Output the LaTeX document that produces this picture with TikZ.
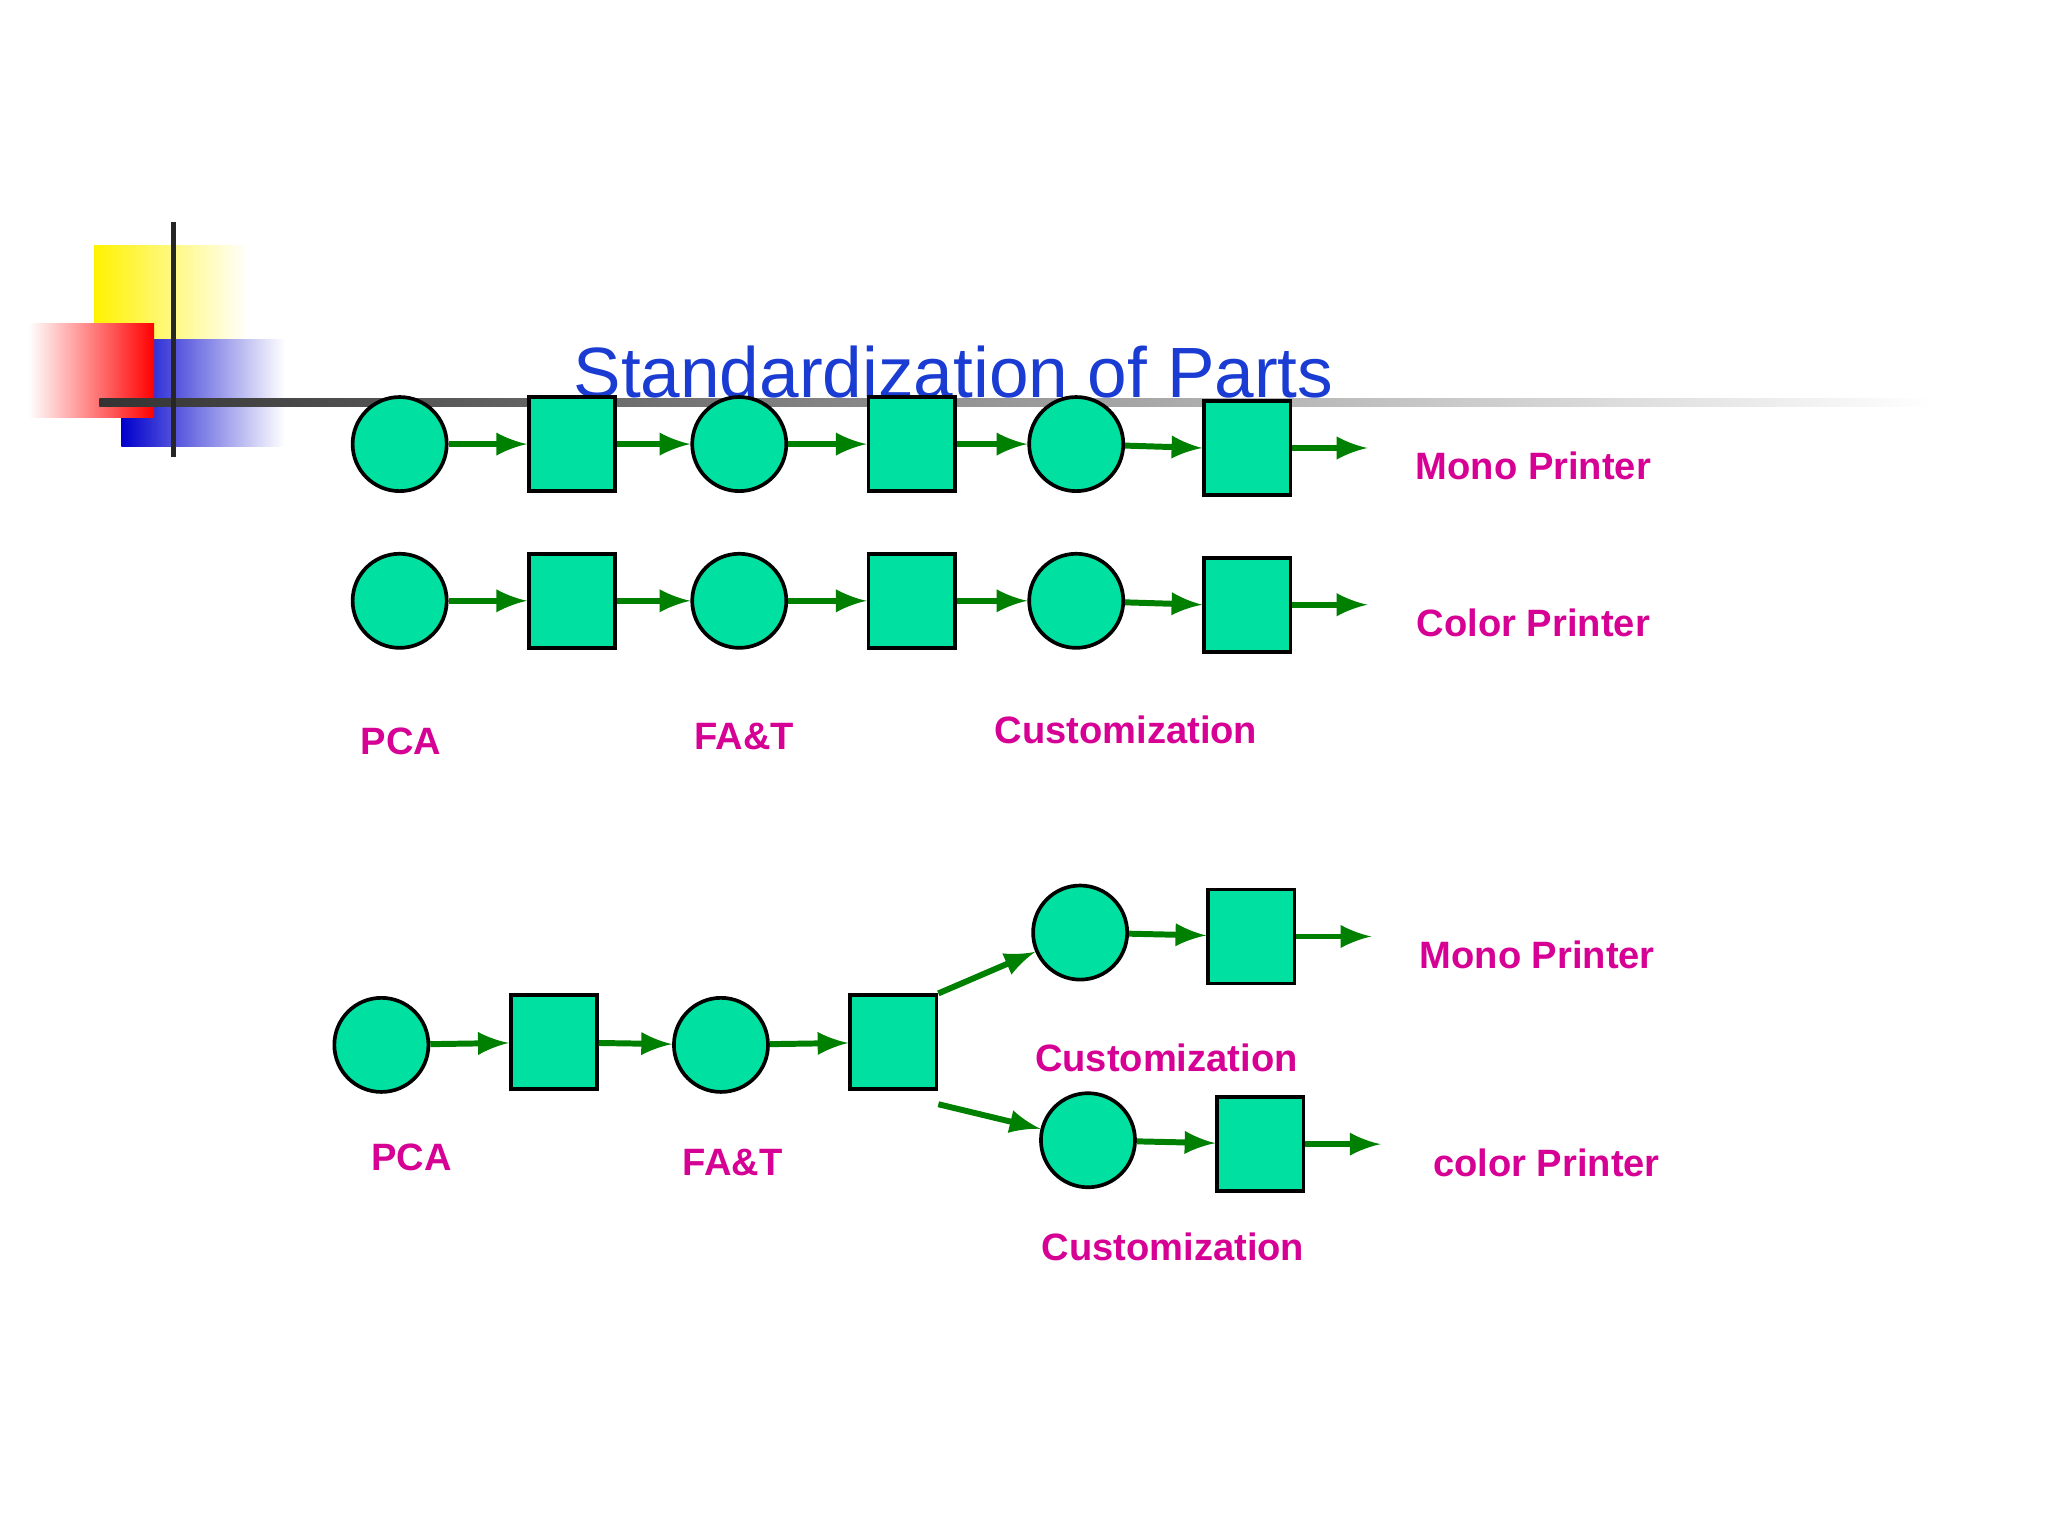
\documentclass[tikz,border=0pt]{standalone}
\usepackage{fontspec}
\setmainfont{Liberation Sans}
\usetikzlibrary{arrows}
\definecolor{partfill}{RGB}{0,224,160}
\definecolor{lblcol}{RGB}{214,0,148}
\definecolor{flowcol}{RGB}{0,128,0}
\definecolor{titlecol}{RGB}{26,60,210}
\begin{document}
\begin{tikzpicture}[x=0.01cm,y=-0.01cm,
    part/.style={circle, draw, thick, fill=partfill, minimum size=0.72cm, inner sep=0pt},
    station/.style={rectangle, draw, thick, fill=partfill, minimum width=0.66cm, minimum height=0.72cm, inner sep=0pt},
    lbl/.style={text=lblcol, font=\fontsize{8.3}{10}\selectfont\bfseries},
    line/.style={draw, flowcol, line width=1.3pt, -latex}
  ]
    \useasboundingbox (0,0) rectangle (1568,1176);
    % corner decoration
    \shade[left color=yellow!90!orange, right color=white] (72,188) rectangle (190,260);
    \shade[left color=blue!80!black, right color=white] (93,260) rectangle (218,342);
    \shade[left color=white, right color=red] (22,248) rectangle (118,320);
    \shade[left color=black!80, right color=white] (76,305) rectangle (1480,311);
    \fill[black!85] (131,170) rectangle (135,350);
    \node[text=titlecol, font=\fontsize{15.5}{18}\selectfont] (title) at (730,285) {Standardization of Parts};

    % two separate lines
    \foreach \r/\y/\name in {a/340/Mono Printer, b/460/Color Printer} {
      \node[part] (\r1) at (306,\y) {};
      \node[station] (\r2) at (438,\y) {};
      \node[part] (\r3) at (566,\y) {};
      \node[station] (\r4) at (698,\y) {};
      \node[part] (\r5) at (824,\y) {};
      \node[station] (\r6) at (955,\y+3) {};
      \coordinate (\r7) at (1047,\y+3);
      \node[lbl] (\r out) at (1174,\y+17) {\name};
      \path [line] (\r1) -- (\r2);
      \path [line] (\r2) -- (\r3);
      \path [line] (\r3) -- (\r4);
      \path [line] (\r4) -- (\r5);
      \path [line] (\r5) -- (\r6.west);
      \path [line] (\r6.east) -- (\r7);
    }
    \node[lbl] (pca1) at (307,568) {PCA};
    \node[lbl] (fat1) at (570,564) {FA\&T};
    \node[lbl] (cus1) at (862,559) {Customization};

    % shared line with late branching
    \node[part] (c1) at (292,800) {};
    \node[station] (c2) at (424,798) {};
    \node[part] (c3) at (552,800) {};
    \node[station] (c4) at (684,798) {};
    \node[part] (m1) at (827,714) {};
    \node[station] (m2) at (958,717) {};
    \coordinate (m3) at (1050,717);
    \node[part] (k1) at (833,873) {};
    \node[station] (k2) at (965,876) {};
    \coordinate (k3) at (1057,876);

    \path [line] (c1) -- (c2);
    \path [line] (c2) -- (c3);
    \path [line] (c3) -- (c4);
    \path [line] (c4.north east) -- (m1);
    \path [line] ([yshift=-0.1cm]c4.south east) -- (k1);
    \path [line] (m1) -- (m2);
    \path [line] (m2.east) -- (m3);
    \path [line] (k1) -- (k2);
    \path [line] (k2.east) -- (k3);

    \node[lbl] (pca2) at (315,886) {PCA};
    \node[lbl] (fat2) at (561,890) {FA\&T};
    \node[lbl] (cus2) at (893,810) {Customization};
    \node[lbl] (cus3) at (898,955) {Customization};
    \node[lbl] (mono2) at (1177,731) {Mono Printer};
    \node[lbl] (color2) at (1184,890) {color Printer};
  \end{tikzpicture}
\end{document}
